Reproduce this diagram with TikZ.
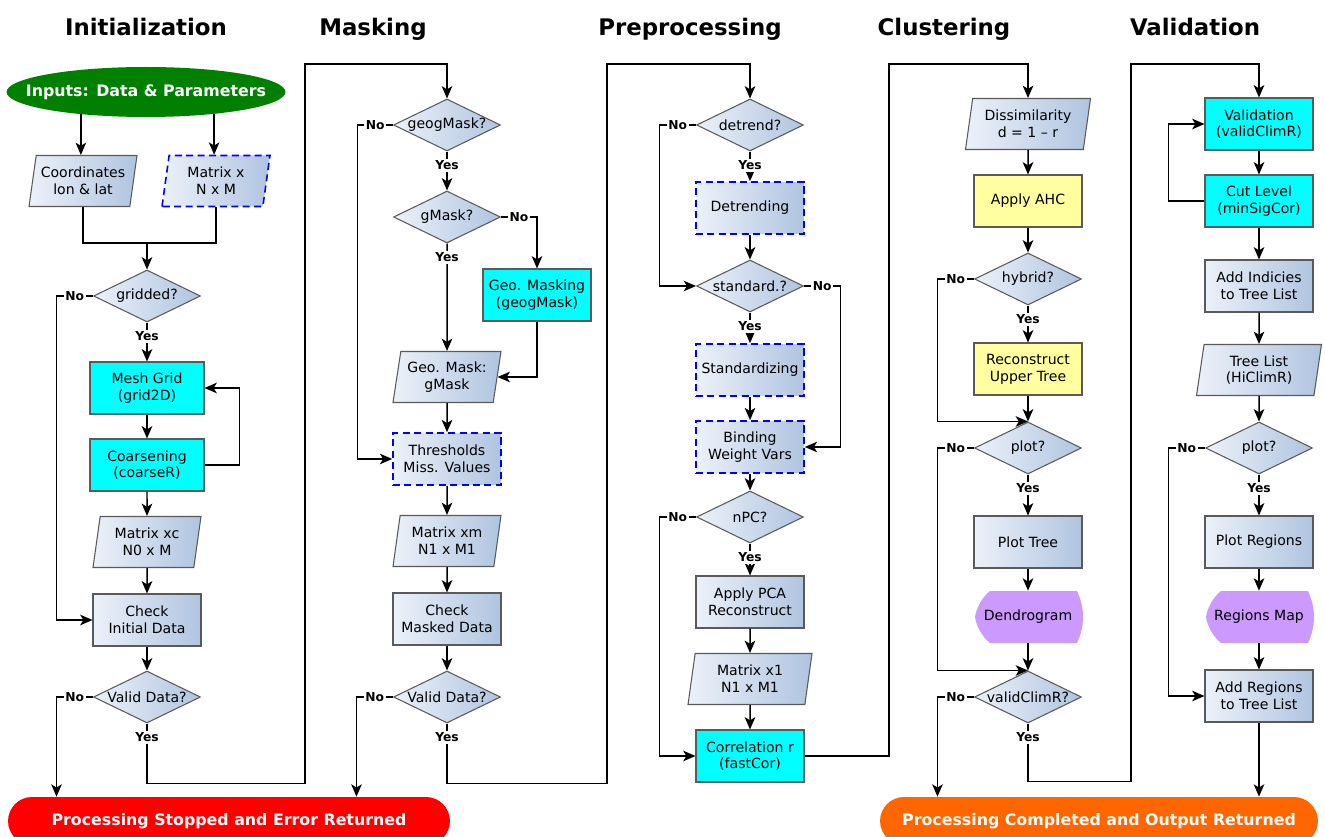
\documentclass[tikz,border=0pt]{standalone}
\usepackage{fontspec}
\setmainfont{DejaVu Sans}
\usepackage{tikz}
\usetikzlibrary{arrows.meta}
\usetikzlibrary{shapes.geometric}
\usetikzlibrary{positioning, calc}

\definecolor{boxl}{RGB}{236,241,249}
\definecolor{boxr}{RGB}{176,196,224}
\definecolor{edgegray}{RGB}{90,90,90}
\definecolor{stepcyan}{RGB}{0,255,255}
\definecolor{stepyellow}{RGB}{255,255,160}
\definecolor{outpurple}{RGB}{204,153,255}
\definecolor{startgreen}{RGB}{0,128,0}
\definecolor{stopred}{RGB}{255,0,0}
\definecolor{doneorange}{RGB}{255,102,0}

\begin{document}
\begin{tikzpicture}[x=0.02cm, y=-0.02cm,
    txt/.style={font=\fontsize{8}{9.5}\selectfont},
    clapped/.style={execute at begin node={\hbox to 0pt\bgroup\hss},
                    execute at end node={\hss\egroup}},
    boxbase/.style={txt, rectangle, draw=edgegray, line width=0.6pt,
                    minimum width=2.16cm, minimum height=1.04cm,
                    inner sep=1pt, align=center},
    proc/.style={boxbase, left color=boxl, right color=boxr},
    dproc/.style={proc, draw=blue, line width=0.9pt,
                  dash pattern=on 4pt off 2.5pt},
    cproc/.style={boxbase, fill=stepcyan},
    yproc/.style={boxbase, fill=stepyellow},
    data/.style={txt, trapezium, trapezium left angle=77,
                 trapezium right angle=103, trapezium stretches body,
                 draw=edgegray, line width=0.6pt, left color=boxl,
                 right color=boxr, minimum width=2.16cm,
                 minimum height=1.02cm, inner sep=1pt, align=center},
    ddata/.style={data, draw=blue, line width=0.9pt,
                  dash pattern=on 4pt off 2.5pt},
    dec/.style={txt, clapped, diamond, draw=edgegray, line width=0.6pt,
                left color=boxl, right color=boxr, minimum width=2.14cm,
                minimum height=1.04cm, inner sep=0pt},
    disp/.style={txt, rectangle, minimum width=2.16cm,
                 minimum height=1.04cm, inner sep=1pt},
    start/.style={clapped, ellipse, fill=startgreen, text=white,
                  minimum width=5.58cm, minimum height=1.0cm, inner sep=0pt,
                  font=\bfseries\fontsize{9}{11}\selectfont},
    term/.style={rectangle, rounded corners=0.48cm, text=white,
                 minimum height=0.96cm,
                 font=\bfseries\fontsize{9}{11}\selectfont},
    title/.style={anchor=base, font=\bfseries\fontsize{13}{15}\selectfont},
    lbl/.style={fill=white, inner sep=1pt,
                font=\bfseries\fontsize{7}{8}\selectfont},
    yes/.style={lbl, pos=0, yshift=-0.28cm}]

\useasboundingbox (0,0) rectangle (1325,837);

% column titles
\node[title] (T1) at (146,36) {Initialization};
\node[title] (T2) at (373,36) {Masking};
\node[title] (T3) at (690,36) {Preprocessing};
\node[title] (T4) at (944,36) {Clustering};
\node[title] (T5) at (1195,36) {Validation};

% output shapes behind the display nodes
\foreach \px in {1028,1259}
    \fill[outpurple, shift={(\px,617)}]
        (-38,-26) .. controls (-46,-20) and (-52,-8) .. (-53,0)
        .. controls (-52,8) and (-46,20) .. (-38,26)
        -- (49,26) .. controls (57,9) and (57,-9) .. (49,-26) -- cycle;

% initialization
\node[start] (I0) at (146,92) {Inputs: Data \& Parameters};
\node[data] (I1) at (83,181) {Coordinates\\lon \& lat};
\node[ddata] (I2) at (216,181) {Matrix x\\N x M};
\node[dec] (I3) at (147,296) {gridded?};
\node[cproc, minimum width=2.28cm] (I4) at (147,388) {Mesh Grid\\(grid2D)};
\node[cproc, minimum width=2.28cm] (I5) at (147,465) {Coarsening\\(coarseR)};
\node[data] (I6) at (147,542) {Matrix xc\\N0 x M};
\node[proc] (I7) at (147,620) {Check\\Initial Data};
\node[dec] (I8) at (147,697) {Valid Data?};

% masking
\node[dec] (M1) at (447,125) {geogMask?};
\node[dec] (M2) at (447,217) {gMask?};
\node[cproc] (M3) at (537,295) {Geo. Masking\\(geogMask)};
\node[data] (M4) at (447,377) {Geo. Mask:\\gMask};
\node[dproc] (M5) at (447,459) {Thresholds\\Miss. Values};
\node[data] (M6) at (447,541) {Matrix xm\\N1 x M1};
\node[proc] (M7) at (447,619) {Check\\Masked Data};
\node[dec] (M8) at (447,697) {Valid Data?};

% preprocessing
\node[dec] (P1) at (750,125) {detrend?};
\node[dproc] (P2) at (750,208) {Detrending};
\node[dec] (P3) at (750,286) {standard.?};
\node[dproc] (P4) at (750,370) {Standardizing};
\node[dproc] (P5) at (750,447) {Binding\\Weight Vars};
\node[dec] (P6) at (750,517) {nPC?};
\node[proc] (P7) at (750,602) {Apply PCA\\Reconstruct};
\node[data, minimum width=2.48cm] (P8) at (750,679) {Matrix x1\\N1 x M1};
\node[cproc] (P9) at (750,756) {Correlation r\\(fastCor)};

% clustering
\node[data, minimum width=2.5cm] (C1) at (1028,124) {Dissimilarity\\d = 1 -- r};
\node[yproc] (C2) at (1028,201) {Apply AHC};
\node[dec] (C3) at (1028,279) {hybrid?};
\node[yproc] (C4) at (1028,369) {Reconstruct\\Upper Tree};
\node[dec] (C5) at (1028,448) {plot?};
\node[proc] (C6) at (1028,542) {Plot Tree};
\node[disp] (C7) at (1028,617) {Dendrogram};
\node[dec] (C8) at (1028,697) {validClimR?};

% validation
\node[cproc] (V1) at (1259,124) {Validation\\(validClimR)};
\node[cproc] (V2) at (1259,201) {Cut Level\\(minSigCor)};
\node[proc] (V3) at (1259,286) {Add Indicies\\to Tree List};
\node[data, minimum width=2.5cm] (V4) at (1259,370) {Tree List\\(HiClimR)};
\node[dec] (V5) at (1259,448) {plot?};
\node[proc] (V6) at (1259,542) {Plot Regions};
\node[disp] (V7) at (1259,617) {Regions Map};
\node[proc] (V8) at (1259,696) {Add Regions\\to Tree List};

% end points
\node[term, fill=stopred, minimum width=8.84cm] (E1) at (229,821)
    {Processing Stopped and Error Returned};
\node[term, fill=doneorange, minimum width=8.76cm] (E2) at (1099,821)
    {Processing Completed and Output Returned};

% corners of the links between columns
\coordinate (J1) at (147,243);
\coordinate (L1) at (305,64);
\coordinate (L2) at (607,64);
\coordinate (L3) at (889,64);
\coordinate (L4) at (1131,64);
\coordinate (K1) at ($(I8.west)+(-36.5,0)$);
\coordinate (K2) at ($(M8.west)+(-36.5,0)$);
\coordinate (K3) at ($(C8.west)+(-36.5,0)$);

\begin{scope}[>={Stealth[length=7pt,width=6pt,inset=1.8pt]},
              line width=0.85pt]
    \draw [->] (I0.199.5) -- (I0.199.5 |- I1.north);
    \draw [->] (I0.342.85) -- (I0.342.85 |- I2.north);
    \draw (I1.south) |- (J1) -| (I2.south);
    \draw [->] (J1) -- (I3.north);
    \draw [->] (I3.west) -- ++(-36.5,0) node[lbl,midway] (N1) {No} |- (I7.west);
    \draw [->] (I3.south) -- (I4.north) node[yes] (Y1) {Yes};
    \draw [->] (I4.south) -- (I5.north);
    \draw [->] (I5.east) -- ++(35,0) |- (I4.east);
    \draw [->] (I5.south) -- (I6.north);
    \draw [->] (I6.south) -- (I7.north);
    \draw [->] (I7.south) -- (I8.north);
    \draw [->] (I8.west) -- node[lbl] (N2) {No} (K1) -- (K1 |- E1.north);
    \draw [->] (I8.south) -- ++(0,60) node[yes] (Y2) {Yes} -| (L1) -| (M1.north);

    \draw [->] (M1.west) -- ++(-35.5,0) node[lbl,midway] (N3) {No} |- (M5.west);
    \draw [->] (M1.south) -- (M2.north) node[yes] (Y3) {Yes};
    \draw [->] (M2.east) -- node[lbl] (N4) {No} (M2.east -| M3.north) -- (M3.north);
    \draw [->] (M2.south) -- (M4.north) node[yes] (Y4) {Yes};
    \draw [->] (M3.south) |- (M4.east);
    \draw [->] (M4.south) -- (M5.north);
    \draw [->] (M5.south) -- (M6.north);
    \draw [->] (M6.south) -- (M7.north);
    \draw [->] (M7.south) -- (M8.north);
    \draw [->] (M8.west) -- node[lbl] (N5) {No} (K2) -- (K2 |- E1.north);
    \draw [->] (M8.south) -- ++(0,60) node[yes] (Y5) {Yes} -| (L2) -| (P1.north);

    \draw [->] (P1.west) -- ++(-36.5,0) node[lbl,midway] (N6) {No} |- (P3.west);
    \draw [->] (P1.south) -- (P2.north) node[yes] (Y6) {Yes};
    \draw [->] (P2.south) -- (P3.north);
    \draw [->] (P3.east) -- ++(36.5,0) node[lbl,midway] (N7) {No} |- (P5.east);
    \draw [->] (P3.south) -- (P4.north) node[yes] (Y7) {Yes};
    \draw [->] (P4.south) -- (P5.north);
    \draw [->] (P5.south) -- (P6.north);
    \draw [->] (P6.west) -- ++(-36.5,0) node[lbl,midway] (N8) {No} |- (P9.west);
    \draw [->] (P6.south) -- (P7.north) node[yes] (Y8) {Yes};
    \draw [->] (P7.south) -- (P8.north);
    \draw [->] (P8.south) -- (P9.north);
    \draw [->] (P9.east) -| (L3) -| (C1.north);

    \draw [->] (C1.south) -- (C2.north);
    \draw [->] (C2.south) -- (C3.north);
    \draw [->] (C3.west) -- ++(-36.5,0) node[lbl,midway] (N9) {No} |- (C5.north);
    \draw [->] (C3.south) -- (C4.north) node[yes] (Y9) {Yes};
    \draw [->] (C4.south) -- (C5.north);
    \draw [->] (C5.west) -- ++(-36.5,0) node[lbl,midway] (N10) {No} |- (C8.north);
    \draw [->] (C5.south) -- (C6.north) node[yes] (Y10) {Yes};
    \draw [->] (C6.south) -- (C7.north);
    \draw [->] (C7.south) -- (C8.north);
    \draw [->] (C8.west) -- node[lbl] (N11) {No} (K3) -- (K3 |- E2.north);
    \draw [->] (C8.south) -- ++(0,58) node[yes] (Y11) {Yes} -| (L4) -| (V1.north);

    \draw [->] (V1.south) -- (V2.north);
    \draw [->] (V2.west) -- ++(-36,0) |- (V1.west);
    \draw [->] (V2.south) -- (V3.north);
    \draw [->] (V3.south) -- (V4.north);
    \draw [->] (V4.south) -- (V5.north);
    \draw [->] (V5.west) -- ++(-36.5,0) node[lbl,midway] (N12) {No} |- (V8.west);
    \draw [->] (V5.south) -- (V6.north) node[yes] (Y12) {Yes};
    \draw [->] (V6.south) -- (V7.north);
    \draw [->] (V7.south) -- (V8.north);
    \draw [->] (V8.south) -- (V8.south |- E2.north);
\end{scope}
\end{tikzpicture}
\end{document}
